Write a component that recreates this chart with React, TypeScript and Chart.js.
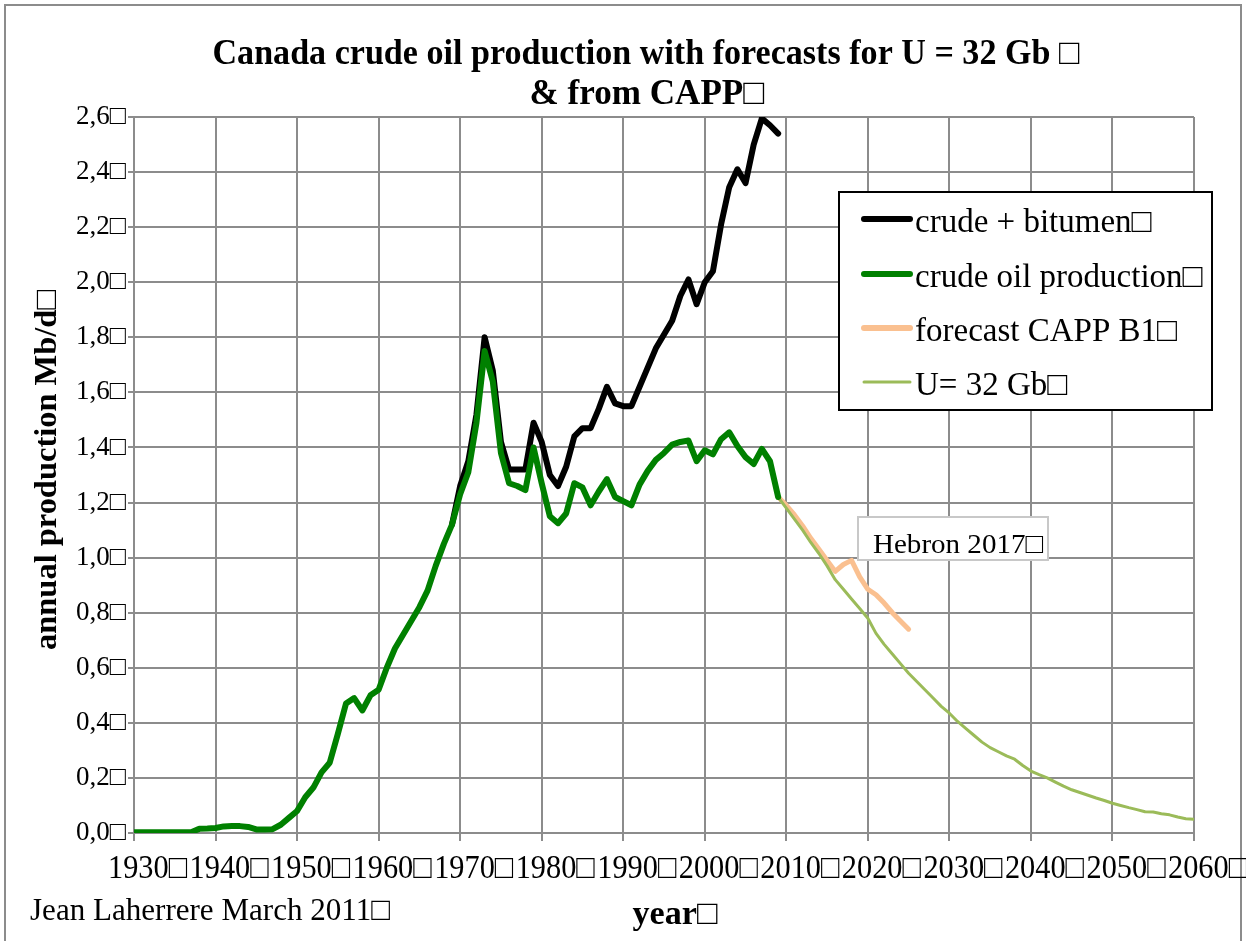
import React, { useEffect, useRef } from 'react';
import { Chart, registerables } from 'chart.js';

Chart.register(...registerables);

const FONT = "'Liberation Serif', 'Times New Roman', serif";
const BOX = '\u25A1';

const TITLE_LINES = ['Canada crude oil production with forecasts for U = 32 Gb ' + BOX, '& from CAPP' + BOX];
const Y_TITLE = 'annual production Mb/d' + BOX;
const X_TITLE = 'year' + BOX;
const CREDIT = 'Jean Laherrere March 2011' + BOX;
const ANNOTATION = 'Hebron 2017' + BOX;

const X_TICKS = [1930, 1940, 1950, 1960, 1970, 1980, 1990, 2000, 2010, 2020, 2030, 2040, 2050, 2060];

const SERIES_LABELS = ['crude + bitumen' + BOX, 'crude oil production' + BOX, 'forecast CAPP B1' + BOX, 'U= 32 Gb' + BOX];
const SERIES_COLORS = ['#000000', '#008000', '#FAC090', '#9BBB59'];

// crude + bitumen, Mb/d, from 1969
const BITUMEN_START = 1969;
const crudeBitumen = [
  1.12, 1.26, 1.35, 1.52, 1.80, 1.68, 1.42, 1.32, 1.32, 1.32,
  1.49, 1.42, 1.30, 1.26, 1.33, 1.44, 1.47, 1.47, 1.54, 1.62,
  1.56, 1.55, 1.55, 1.62, 1.69, 1.76, 1.81, 1.86, 1.95, 2.01,
  1.92, 2.00, 2.04, 2.21, 2.345, 2.41, 2.36, 2.50, 2.595, 2.57,
  2.54,
];

// crude oil production, Mb/d, from 1930
const CRUDE_START = 1930;
const crudeOil = [
  0.003, 0.003, 0.003, 0.003, 0.003, 0.003, 0.003, 0.003, 0.015, 0.016,
  0.018, 0.024, 0.025, 0.025, 0.022, 0.013, 0.013, 0.014, 0.03, 0.055,
  0.08, 0.13, 0.165, 0.22, 0.255, 0.36, 0.47, 0.49, 0.445, 0.50,
  0.52, 0.60, 0.67, 0.72, 0.77, 0.82, 0.88, 0.97, 1.05, 1.12,
  1.23, 1.31, 1.49, 1.75, 1.64, 1.38, 1.27, 1.26, 1.245, 1.40,
  1.27, 1.15, 1.125, 1.16, 1.27, 1.255, 1.19, 1.24, 1.285, 1.22,
  1.205, 1.19, 1.265, 1.315, 1.355, 1.38, 1.41, 1.42, 1.425, 1.35,
  1.39, 1.375, 1.43, 1.455, 1.405, 1.365, 1.34, 1.395, 1.35, 1.22,
];

// CAPP B1 forecast, from 2009
const CAPP_START = 2009;
const cappB1 = [
  1.22, 1.19, 1.155, 1.115, 1.07, 1.03, 0.99, 0.95, 0.975, 0.99,
  0.93, 0.885, 0.865, 0.835, 0.80, 0.77, 0.74,
];

// U = 32 Gb model, from 2009
const U32_START = 2009;
const u32 = [
  1.22, 1.18, 1.14, 1.10, 1.055, 1.015, 0.97, 0.92, 0.885, 0.85,
  0.815, 0.78, 0.725, 0.685, 0.65, 0.615, 0.58, 0.55, 0.52, 0.49,
  0.46, 0.435, 0.405, 0.38, 0.355, 0.33, 0.31, 0.295, 0.28, 0.268,
  0.245, 0.225, 0.212, 0.20, 0.185, 0.17, 0.157, 0.147, 0.137, 0.127,
  0.118, 0.108, 0.10, 0.092, 0.085, 0.077, 0.076, 0.07, 0.066, 0.058,
  0.052, 0.05,
];

const toPoints = (start: number, vals: number[]) => vals.map((v, i) => ({ x: start + i, y: v }));

const W = 1246;
const H = 941;
const AREA = { left: 134, top: 117, right: 1194, bottom: 833 };

// draws text; if targetWidth is given the glyphs are scaled horizontally to fit it
function drawText(ctx: CanvasRenderingContext2D, text: string, x: number, y: number, font: string, align: CanvasTextAlign = 'left', targetWidth = 0) {
  ctx.save();
  ctx.font = font;
  ctx.fillStyle = '#000';
  ctx.textBaseline = 'alphabetic';
  ctx.textAlign = align;
  const sx = targetWidth > 0 ? targetWidth / ctx.measureText(text).width : 1;
  ctx.translate(x, y);
  ctx.scale(sx, 1);
  ctx.fillText(text, 0, 0);
  ctx.restore();
}

const decorPlugin = {
  id: 'decor',
  beforeDraw(chart: any) {
    const ctx = chart.ctx as CanvasRenderingContext2D;
    ctx.save();
    ctx.fillStyle = '#fff';
    ctx.fillRect(0, 0, W, H);
    ctx.strokeStyle = '#8c8c8c';
    ctx.lineWidth = 2;
    ctx.strokeRect(5, 5, W - 10, H + 20);
    ctx.restore();
  },
  beforeDatasetsDraw(chart: any) {
    const ctx = chart.ctx as CanvasRenderingContext2D;
    ctx.save();
    ctx.fillStyle = '#fff';
    ctx.strokeStyle = '#c8c8c8';
    ctx.lineWidth = 2;
    ctx.fillRect(858, 517, 190, 43);
    ctx.strokeRect(858, 517, 190, 43);
    ctx.restore();
    drawText(ctx, ANNOTATION, 873, 553, `28px ${FONT}`, 'left', 170);
  },
  afterDraw(chart: any) {
    const ctx = chart.ctx as CanvasRenderingContext2D;
    // titles
    drawText(ctx, TITLE_LINES[0], 646, 64, `bold 36px ${FONT}`, 'center', 867);
    drawText(ctx, TITLE_LINES[1], 647, 104, `bold 36px ${FONT}`, 'center', 235);
    // y title
    ctx.save();
    ctx.translate(56, 470);
    ctx.rotate(-Math.PI / 2);
    drawText(ctx, Y_TITLE, 0, 0, `bold 32px ${FONT}`, 'center', 360);
    ctx.restore();
    // x title
    drawText(ctx, X_TITLE, 675, 924, `bold 34px ${FONT}`, 'center', 85);
    // credit
    drawText(ctx, CREDIT, 30, 920, `32px ${FONT}`, 'left', 360);
    // x tick labels
    const xs = chart.scales.x;
    X_TICKS.forEach((t) => {
      drawText(ctx, String(t) + BOX, xs.getPixelForValue(t) - 26, 878, `33px ${FONT}`, 'left', 79);
    });
    // legend
    ctx.save();
    ctx.fillStyle = '#fff';
    ctx.strokeStyle = '#000';
    ctx.lineWidth = 2;
    ctx.fillRect(839, 192, 373, 218);
    ctx.strokeRect(839, 192, 373, 218);
    ctx.restore();
    const rows = [219, 274, 328, 382];
    const widths = [6, 6, 6, 3];
    SERIES_LABELS.forEach((lab, i) => {
      ctx.save();
      ctx.strokeStyle = SERIES_COLORS[i];
      ctx.lineWidth = widths[i];
      ctx.lineCap = 'round';
      ctx.beginPath();
      ctx.moveTo(864, rows[i]);
      ctx.lineTo(910, rows[i]);
      ctx.stroke();
      ctx.restore();
      drawText(ctx, lab, 915, rows[i] + 13, `33px ${FONT}`);
    });
  },
};

export default function App() {
  const ref = useRef<HTMLCanvasElement | null>(null);
  useEffect(() => {
    if (!ref.current) return;
    const chart = new Chart(ref.current, {
      type: 'line',
      data: {
        datasets: [
          { label: SERIES_LABELS[0], data: toPoints(BITUMEN_START, crudeBitumen), borderColor: SERIES_COLORS[0], borderWidth: 6, order: 1 },
          { label: SERIES_LABELS[1], data: toPoints(CRUDE_START, crudeOil), borderColor: SERIES_COLORS[1], borderWidth: 6, order: 0 },
          { label: SERIES_LABELS[2], data: toPoints(CAPP_START, cappB1), borderColor: SERIES_COLORS[2], borderWidth: 5, order: 1 },
          { label: SERIES_LABELS[3], data: toPoints(U32_START, u32), borderColor: SERIES_COLORS[3], borderWidth: 3, order: 0 },
        ].map((d) => ({ ...d, pointRadius: 0, tension: 0, fill: false, borderJoinStyle: 'round' as const, borderCapStyle: 'round' as const })),
      },
      options: {
        animation: false,
        responsive: false,
        maintainAspectRatio: false,
        layout: { padding: { left: 0, top: AREA.top, right: W - AREA.right, bottom: 0 } },
        plugins: { legend: { display: false }, title: { display: false }, tooltip: { enabled: false } },
        scales: {
          x: {
            type: 'linear',
            min: 1930,
            max: 2060,
            afterFit: (s: any) => { s.height = H - AREA.bottom; },
            afterBuildTicks: (s: any) => { s.ticks = X_TICKS.map((v) => ({ value: v })); },
            ticks: { display: false },
            grid: { color: '#8c8c8c', lineWidth: 2, tickLength: 8, drawTicks: true },
            border: { color: '#8c8c8c', width: 2 },
          },
          y: {
            min: 0,
            max: 2.6,
            afterFit: (s: any) => { s.width = AREA.left; },
            ticks: {
              stepSize: 0.2,
              color: '#000',
              font: { family: FONT, size: 27 },
              padding: 2,
              callback: (v: any) => Number(v).toFixed(1).replace('.', ',') + BOX,
            },
            grid: { color: '#8c8c8c', lineWidth: 2, tickLength: 6 },
            border: { color: '#8c8c8c', width: 2 },
          },
        },
      },
      plugins: [decorPlugin],
    } as any);
    return () => chart.destroy();
  }, []);
  return (
    <div style={{ position: 'absolute', left: 0, top: 0, width: W, height: H, background: '#fff' }}>
      <canvas ref={ref} width={W} height={H} style={{ width: W, height: H, display: 'block' }} />
    </div>
  );
}
